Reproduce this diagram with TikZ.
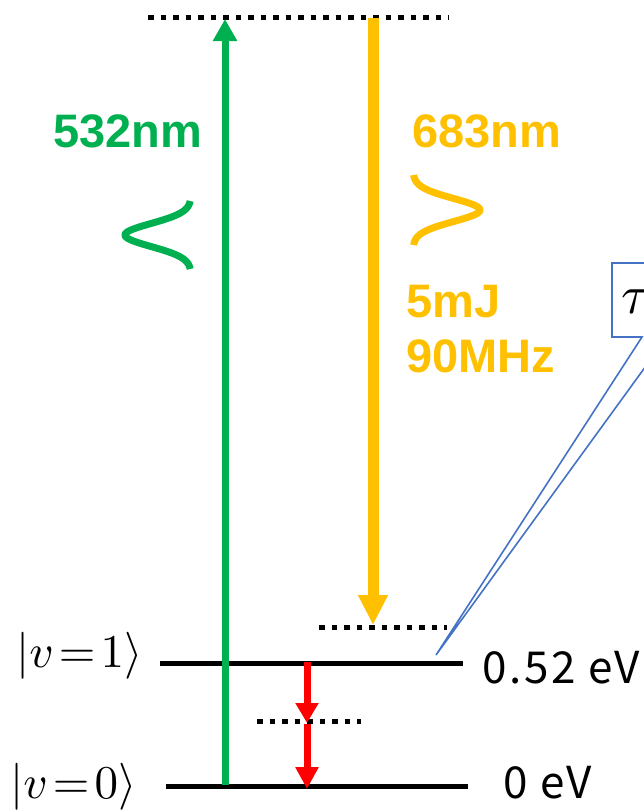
\documentclass[tikz,border=0pt]{standalone}
\usepackage{fontspec}
\setmainfont{Liberation Sans}
\newfontfamily\evfont[LetterSpace=6]{Noto Sans CJK JP}
\usetikzlibrary{arrows.meta}
\definecolor{grn}{HTML}{00B050}
\definecolor{org}{HTML}{FFC000}
\definecolor{callout}{HTML}{4472C4}
\begin{document}
\begin{tikzpicture}[x=1pt,y=-1pt,
  dotline/.style={line width=5pt, dash pattern=on 5.5pt off 7pt},
  levelline/.style={line width=5pt},
  lbl/.style={anchor=base west, inner sep=0pt, font=\bfseries\fontsize{47}{47}\selectfont},
  evlbl/.style={anchor=base west, inner sep=0pt, font=\evfont\fontsize{44}{44}\selectfont},
  ketlbl/.style={anchor=base west, inner sep=0pt}]
\useasboundingbox (0,0) rectangle (644,811);
\clip (0,0) rectangle (644,811);

% coordinates
\coordinate (topL) at (148,17);
\coordinate (topR) at (449,17);
\coordinate (midL) at (319,627);
\coordinate (midR) at (447,627);
\coordinate (lowL) at (257,721);
\coordinate (lowR) at (361,721);
\coordinate (v1L) at (160,663);
\coordinate (v1R) at (463,663);
\coordinate (v0L) at (166,786);
\coordinate (v0R) at (468,786);
\coordinate (gS) at (225,785);
\coordinate (gE) at (225,19);
\coordinate (oS) at (373,18);
\coordinate (oE) at (373,625);
\coordinate (r1S) at (307,662);
\coordinate (r1E) at (307,723);
\coordinate (r2S) at (307,724);
\coordinate (r2E) at (307,789);

% levels
\draw[dotline] (topL) -- (topR);
\draw[dotline] (midL) -- (midR);
\draw[dotline] (lowL) -- (lowR);
\draw[levelline] (v1L) -- (v1R);
\draw[levelline] (v0L) -- (v0R);

% arrows
\draw[grn, line width=7pt, -{Triangle[width=23pt,length=22pt]}] (gS) -- (gE);
\draw[org, line width=11pt, -{Triangle[width=28pt,length=30pt]}] (oS) -- (oE);
\draw[red, line width=7pt, -{Triangle[width=22pt,length=20pt]}] (r1S) -- (r1E);
\draw[red, line width=7pt, -{Triangle[width=22pt,length=22pt]}] (r2S) -- (r2E);

% pulse shapes
\draw[grn, line width=7pt] plot[domain=201:269, samples=80, smooth] ({191-66*exp(-((\x-235)/11.5)^2/2)}, \x);
\draw[org, line width=7pt] plot[domain=175:245, samples=80, smooth] ({413+67*exp(-((\x-210)/11.5)^2/2)}, \x);

% labels
\node[lbl, text=grn] (l532) at (53,147) {532nm};
\node[lbl, text=org] (l683) at (412,147) {683nm};
\node[lbl, text=org] (l5mJ) at (406,317) {5mJ};
\node[lbl, text=org] (l90) at (406,372) {90MHz};

\node[evlbl] (e1) at (482,683) {0.52 eV};
\node[evlbl] (e0) at (503,798) {0 eV};

\node[ketlbl] (k1) at (16,667) {\scalebox{4.7}{$\left|v\mkern2mu{=}\mkern2mu1\right\rangle$}};
\node[ketlbl] (k0) at (10,798) {\scalebox{4.7}{$\left|v\mkern2mu{=}\mkern2mu0\right\rangle$}};

% tau callout
\coordinate (cTip) at (436,655);
\draw[callout, line width=1.6pt, line join=miter]
  (700,263) -- (612,263) -- (612,337) -- (642,337) -- (cTip) -- (667,337) -- (700,337);
\node[anchor=base west, inner sep=0pt] (tau) at (621,313) {\scalebox{5.5}{$\tau$}};
\end{tikzpicture}
\end{document}
